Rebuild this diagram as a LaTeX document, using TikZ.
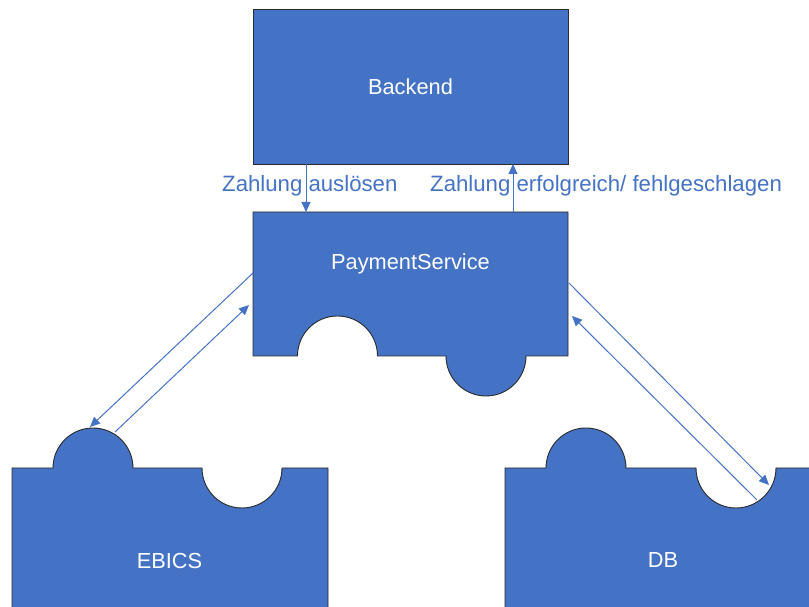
\documentclass[tikz,border=0pt]{standalone}
\usepackage{fontspec}
\setmainfont{Liberation Sans}
\usetikzlibrary{arrows.meta}
\definecolor{pieceblue}{HTML}{4472C4}
\definecolor{piecerim}{HTML}{2B2B2B}

\begin{document}
\begin{tikzpicture}[x=1pt,y=1pt,
    piece/.style={fill=pieceblue,draw=piecerim,line width=0.9pt},
    title/.style={text=white,font=\fontsize{21.8}{26}\selectfont,anchor=base,inner sep=0pt},
    flowlabel/.style={text=pieceblue,font=\fontsize{22.2}{26}\selectfont,anchor=base west,inner sep=0pt},
    flow/.style={draw=pieceblue,line width=1pt,-{Triangle[width=9pt,length=10pt]}}]

  \clip (0,0) rectangle (809,607);

  % Backend
  \draw[piece] (253,443) rectangle (568,598);
  \node[title] (backend) at (410.5,512.7) {Backend};

  % PaymentService
  \draw[piece] (253,395) -- (568,395) -- (568,251) -- (526,251)
    arc[start angle=0,end angle=-180,radius=40] -- (377.5,251)
    arc[start angle=0,end angle=180,radius=40] -- (253,251) -- cycle;
  \node[title] (payment) at (410.5,337.7) {PaymentService};

  % EBICS
  \draw[piece] (12,-5) -- (12,139) -- (53,139)
    arc[start angle=180,end angle=0,radius=40] -- (202,139)
    arc[start angle=180,end angle=360,radius=40] -- (328,139) -- (328,-5) -- cycle;
  \node[title] (ebics) at (169.5,38.7) {EBICS};

  % DB
  \draw[piece] (505,-5) -- (505,139) -- (546,139)
    arc[start angle=180,end angle=0,radius=40] -- (696,139)
    arc[start angle=180,end angle=360,radius=40] -- (821,139) -- (821,-5) -- cycle;
  \node[title] (db) at (663,39) {DB};

  % connector ends
  \coordinate (bkdown) at (306,443);
  \coordinate (psdown) at (306,395);
  \coordinate (psup) at (513,395);
  \coordinate (bkup) at (513,443);
  \coordinate (psleft1) at (253,334);
  \coordinate (psleft2) at (249,302);
  \coordinate (ebtop1) at (90,180);
  \coordinate (ebtop2) at (115,175);
  \coordinate (psright1) at (569,324);
  \coordinate (psright2) at (572,291);
  \coordinate (dbcut1) at (769,122);
  \coordinate (dbcut2) at (757,107);

  \draw[flow] (bkdown) -- (psdown);
  \draw[flow] (psup) -- (bkup);
  \draw[flow] (psleft1) -- (ebtop1);
  \draw[flow] (ebtop2) -- (psleft2);
  \draw[flow] (psright1) -- (dbcut1);
  \draw[flow] (dbcut2) -- (psright2);

  \node[flowlabel] (trigger) at (222,415.3) {Zahlung auslösen};
  \node[flowlabel] (result) at (430,415.3) {Zahlung erfolgreich/ fehlgeschlagen};

\end{tikzpicture}
\end{document}
